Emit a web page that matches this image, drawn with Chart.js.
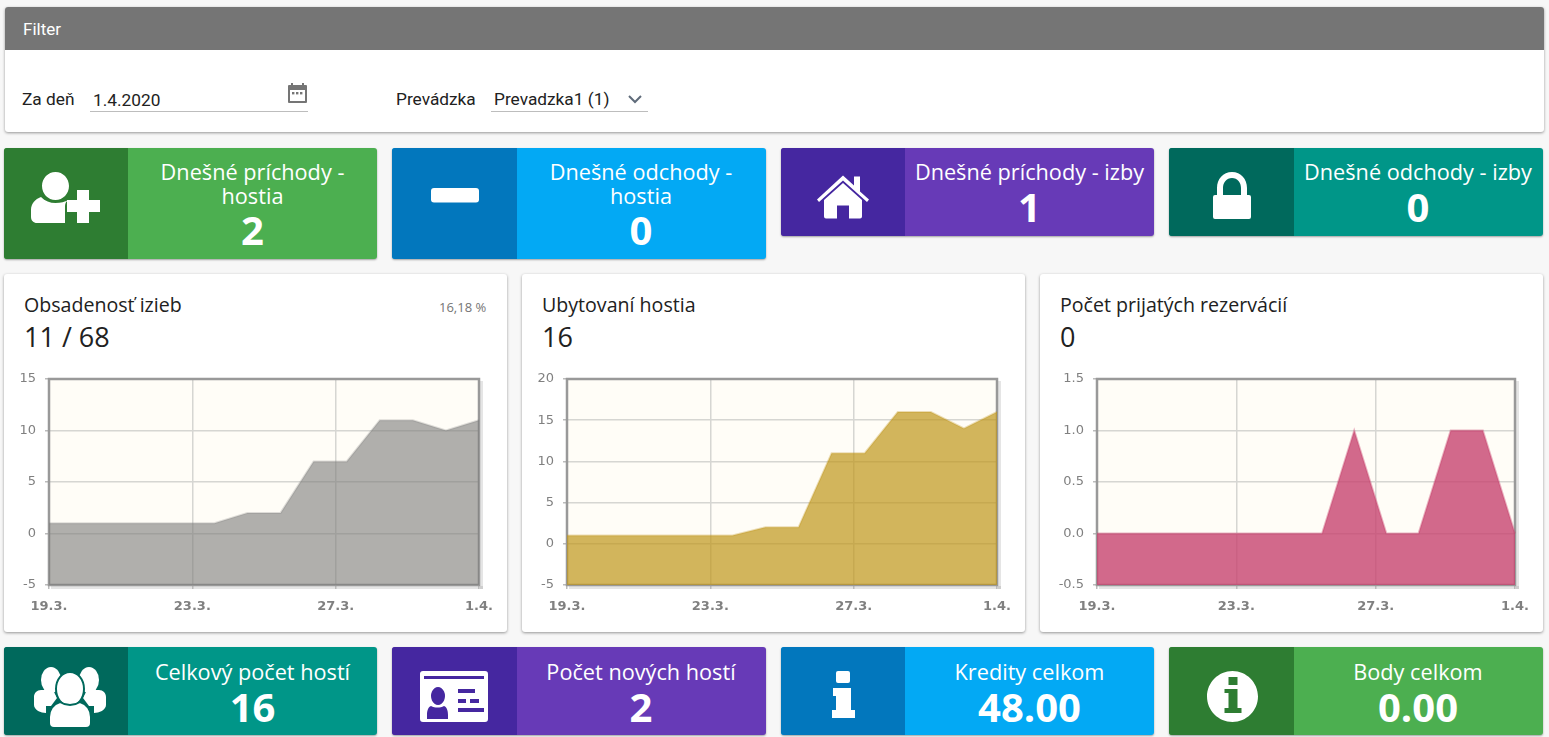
<!DOCTYPE html>
<html lang="sk">
<head>
<meta charset="utf-8">
<title>Prehľad</title>
<script src="https://cdn.jsdelivr.net/npm/chart.js@4"></script>
<style>
html, body { margin: 0; padding: 0; width: 1549px; height: 737px; overflow: hidden; background: #f7f7f7; color: #212121; font-family: Roboto, sans-serif; }
.abs { position: absolute; white-space: nowrap; }
.card { position: absolute; background: #fff; border-radius: 3px; box-shadow: 0 1px 3px rgba(0,0,0,.4); }
.filter-head { position: absolute; left: 5px; top: 7px; width: 1539px; height: 43px; background: #757575; border-radius: 3px 3px 0 0; }
.line { position: absolute; height: 1px; background: #bdbdbd; }
.tile { position: absolute; border-radius: 3px; overflow: hidden; box-shadow: 0 1px 2px rgba(0,0,0,.35); color: #fff; font-family: "Open Sans", sans-serif; text-align: center; }
.tile .dark { position: absolute; left: 0; top: 0; bottom: 0; width: 124px; }
.tile.wide .dark { width: 125px; }
.tile svg { position: absolute; left: 0; top: 0; width: 124px; height: 100%; }
.tile .text { position: absolute; left: 124px; right: 0; top: 12px; font-size: 21.7px; line-height: 23.500px; }
.tile .num { font-size: 40px; line-height: 46px; font-weight: 700; }
.green { background: #4caf50; } .green .dark { background: #2e7d32; }
.blue { background: #03a9f4; } .blue .dark { background: #0277bd; }
.purple { background: #673ab7; } .purple .dark { background: #4527a0; }
.teal { background: #009688; } .teal .dark { background: #00695c; }
.title { font-family: "Open Sans", sans-serif; font-size: 19.6px; color: #212121; }
.big { font-family: "Open Sans", sans-serif; font-size: 27px; color: #212121; }
.field { font-size: 17.3px; }
canvas { position: absolute; }
</style>
</head>
<body>
<div class="card" style="left:5px;top:7px;width:1539px;height:125px"></div>
<div class="filter-head"></div>
<div class="abs" style="left:23px;top:19px;font-size:17px;color:#fff">Filter</div>
<div class="abs field" style="left:22px;top:89px">Za deň</div>
<div class="abs field" style="left:93px;top:90px">1.4.2020</div>
<div class="line" style="left:90px;top:111px;width:218px"></div>
<svg class="abs" style="left:287px;top:82px" width="21" height="22" viewBox="0 0 21 22">
  <path fill="#757575" d="M4 1h2v2h9V1h2v2h2a1 1 0 0 1 1 1v16a1 1 0 0 1-1 1H2a1 1 0 0 1-1-1V4a1 1 0 0 1 1-1h2zM3 8v11h15V8z"/>
  <rect fill="#757575" x="5" y="10" width="2.4" height="2.4"/><rect fill="#757575" x="9" y="10" width="2.4" height="2.4"/><rect fill="#757575" x="13" y="10" width="2.4" height="2.4"/>
</svg>
<div class="abs field" style="left:396px;top:89px">Prevádzka</div>
<div class="abs field" style="left:494px;top:89px">Prevadzka1 (1)</div>
<div class="line" style="left:491px;top:111px;width:157px"></div>
<svg class="abs" style="left:627px;top:94px" width="16" height="10" viewBox="0 0 16 10"><path fill="none" stroke="#5f6b7a" stroke-width="2" d="M2 2l6 6 6-6"/></svg>

<div class="tile green" style="left:4px;top:148px;width:373px;height:111px">
  <div class="dark"></div>
  <svg viewBox="4 148 124 111" preserveAspectRatio="none"><path fill="#fff" d="M55.500 172c7.500 0 13.500 6.300 13.500 14s-6 14-13.500 14-13.500-6.300-13.500-14 6-14 13.500-14zM41 197c4 4 9 6 14.500 6s9-1 13-3c-2 1-3.500 3-3.500 6v17H37c-3.500 0-6-2.500-6-6v-7c0-6 4-11 10-13z"/><path fill="#fff" d="M77 190h12v10h11v12H89v11H77v-11H67v-12h10z"/></svg>
  <div class="text">Dnešné príchody -<br>hostia<div class="num">2</div></div>
</div>
<div class="tile blue wide" style="left:392px;top:148px;width:374px;height:111px">
  <div class="dark"></div>
  <svg viewBox="392 148 124 111" preserveAspectRatio="none"><rect fill="#fff" x="431" y="188" width="48" height="14.500" rx="3"/></svg>
  <div class="text">Dnešné odchody -<br>hostia<div class="num">0</div></div>
</div>
<div class="tile purple" style="left:781px;top:148px;width:373px;height:88px">
  <div class="dark"></div>
  <svg viewBox="781 148 124 88" preserveAspectRatio="none"><path fill="#fff" d="M843 175.500l11 10v-9h6v15l9 8-2 2.500-24-21.500-24 21.500-2-2.500z"/><path fill="#fff" d="M843 183l19 17v16.500a2 2 0 0 1-2 2h-11v-13h-12v13h-11a2 2 0 0 1-2-2V200z"/></svg>
  <div class="text">Dnešné príchody - izby<div class="num">1</div></div>
</div>
<div class="tile teal wide" style="left:1169px;top:148px;width:374px;height:88px">
  <div class="dark"></div>
  <svg viewBox="1169 148 124 88" preserveAspectRatio="none"><path fill="#fff" fill-rule="evenodd" d="M1232 172c9 0 15 7 15 16v7h2a2 2 0 0 1 2 2v20a2 2 0 0 1-2 2h-34a2 2 0 0 1-2-2v-20a2 2 0 0 1 2-2h2v-7c0-9 6-16 15-16zm0 6c-5.500 0-9 4.500-9 10v7h18v-7c0-5.500-3.500-10-9-10z"/></svg>
  <div class="text">Dnešné odchody - izby<div class="num">0</div></div>
</div>

<div class="card" style="left:4px;top:274px;width:503px;height:358px"></div>
<div class="abs title" style="left:24px;top:291px">Obsadenosť izieb</div>
<div class="abs big" style="left:24px;top:318px">11 / 68</div>
<div class="abs" style="left:439px;top:298px;font:13px 'Open Sans',sans-serif;color:#757575">16,18 %</div>
<div class="card" style="left:522px;top:274px;width:503px;height:358px"></div>
<div class="abs title" style="left:542px;top:291px">Ubytovaní hostia</div>
<div class="abs big" style="left:542px;top:318px">16</div>
<div class="card" style="left:1040px;top:274px;width:503px;height:358px"></div>
<div class="abs title" style="left:1060px;top:291px">Počet prijatých rezervácií</div>
<div class="abs big" style="left:1060px;top:318px">0</div>

<canvas id="roomsChart" style="left:4px;top:370px;width:503px;height:255px"></canvas>
<canvas id="guestsChart" style="left:522px;top:370px;width:503px;height:255px"></canvas>
<canvas id="bookingsChart" style="left:1040px;top:370px;width:503px;height:255px"></canvas>

<div class="tile teal" style="left:4px;top:647px;width:373px;height:88px">
  <div class="dark"></div>
  <svg viewBox="4 647 124 88" preserveAspectRatio="none"><ellipse fill="#fff" cx="51" cy="680" rx="10" ry="13"/><ellipse fill="#fff" cx="89" cy="680" rx="10" ry="13"/><path fill="#fff" d="M41 690h12l4 8-6 8h-5v7c-5 0-12-3-12-8v-8c0-4 3-7 7-7zM87 690h12c4 0 7 3 7 7v8c0 5-7 8-12 8v-7h-5l-6-8z"/><ellipse fill="#fff" stroke="#00695c" stroke-width="2" cx="70" cy="689" rx="14" ry="17"/><path fill="#fff" stroke="#00695c" stroke-width="2" d="M60 702c6 4 14 4 20 0 7 2 11 8 11 15v6c0 3-2 5-5 5H54c-3 0-5-2-5-5v-6c0-7 4-13 11-15z"/></svg>
  <div class="text" style="top:13px">Celkový počet hostí<div class="num">16</div></div>
</div>
<div class="tile purple wide" style="left:392px;top:647px;width:374px;height:88px">
  <div class="dark"></div>
  <svg viewBox="392 647 124 88" preserveAspectRatio="none"><path fill="#fff" fill-rule="evenodd" d="M423 671h62a3 3 0 0 1 3 3v45a3 3 0 0 1-3 3h-62a3 3 0 0 1-3-3v-45a3 3 0 0 1 3-3zm1 5v3h60v-3zm34 13v4h17v-4zm0 10v4h8v-4zm12 0v4h9v-4zm-12 9v4h26v-4zm-20-21a7 9 0 1 0 .01 0zm-7 19c-3 1-4 5-4 9v4h21v-4c0-4-1-8-4-9-4 2-9 2-13 0z"/></svg>
  <div class="text" style="top:13px">Počet nových hostí<div class="num">2</div></div>
</div>
<div class="tile blue" style="left:781px;top:647px;width:373px;height:88px">
  <div class="dark"></div>
  <svg viewBox="781 647 124 88" preserveAspectRatio="none"><rect fill="#fff" x="836" y="671" width="14" height="12" rx="2"/><path fill="#fff" d="M833 688h18v22h4v8h-23v-8h4v-14h-3z"/></svg>
  <div class="text" style="top:13px">Kredity celkom<div class="num">48.00</div></div>
</div>
<div class="tile green wide" style="left:1169px;top:647px;width:374px;height:88px">
  <div class="dark"></div>
  <svg viewBox="1169 647 124 88" preserveAspectRatio="none"><path fill="#fff" fill-rule="evenodd" d="M1232.500 671c14 0 25.500 11.500 25.500 25.500s-11.500 25.500-25.500 25.500-25.500-11.500-25.500-25.500 11.500-25.500 25.500-25.500zm-4 6v8h9v-8zm-4 12v4h4v15h-4v5h17v-5h-4v-19z"/></svg>
  <div class="text" style="top:13px">Body celkom<div class="num">0.00</div></div>
</div>

<script>
const tickLabels = ['19.3.', '23.3.', '27.3.', '1.4.'];
const roomsValues = [1, 1, 1, 1, 1, 1, 2, 2, 7, 7, 11, 11, 10, 11];
const guestsValues = [1, 1, 1, 1, 1, 1, 2, 2, 11, 11, 16, 16, 14, 16];
const bookingsValues = [0, 0, 0, 0, 0, 0, 0, 0, 1, 0, 0, 1, 1, 0];

// plot background, then the heavy grey frame under the fill so the colour tints its bottom edge
const plotFrame = {
    id: 'plotFrame',
    beforeDraw(chart) {
        const a = chart.chartArea;
        const ctx = chart.ctx;
        ctx.save();
        ctx.fillStyle = 'rgba(0,0,0,0.1)';
        ctx.fillRect(a.left + 2, a.bottom + 1, a.width + 2, 3);
        ctx.fillRect(a.right + 1, a.top + 2, 3, a.height + 2);
        ctx.fillStyle = '#fffdf7';
        ctx.fillRect(a.left, a.top, a.width, a.height);
        ctx.restore();
    },
    beforeDatasetsDraw(chart) {
        const a = chart.chartArea;
        const ctx = chart.ctx;
        ctx.save();
        ctx.strokeStyle = '#999';
        ctx.lineWidth = 2.5;
        ctx.strokeRect(a.left, a.top, a.width, a.height);
        ctx.restore();
    }
};

function drawArea(id, values, yMin, yMax, step, fill, line, leftWidth, decimals) {
    const ctx = document.getElementById(id).getContext('2d');
    const last = values.length - 1;
    return new Chart(ctx, {
        type: 'line',
        data: {
            datasets: [{
                data: values.map((v, i) => ({ x: i, y: v })),
                label: id,
                fill: 'start',
                backgroundColor: fill,
                borderColor: line,
                borderWidth: 2,
                tension: 0,
                pointRadius: 0,
                clip: 1
            }]
        },
        plugins: [plotFrame],
        options: {
            responsive: false,
            animation: false,
            layout: { padding: { top: 9, right: 28, left: 0, bottom: 0 } },
            plugins: { legend: { display: false }, tooltip: { enabled: false } },
            scales: {
                x: {
                    type: 'linear',
                    min: 0,
                    max: last,
                    // the four date labels sit evenly across the axis, not on data points
                    afterBuildTicks(scale) {
                        scale.ticks = tickLabels.map((_, i) => ({ value: i * last / (tickLabels.length - 1) }));
                    },
                    afterFit(scale) {
                        scale.height = 40;
                        scale.paddingLeft = 0;
                        scale.paddingRight = 0;
                    },
                    grid: { color: '#d6d6d2', lineWidth: 1.5, tickLength: 4, tickColor: '#bbb' },
                    border: { display: false },
                    ticks: {
                        color: '#808080',
                        maxRotation: 0,
                        autoSkip: false,
                        padding: 10,
                        font: { family: '"DejaVu Sans"', size: 13, weight: 'bold' },
                        callback: (value, index) => tickLabels[index]
                    }
                },
                y: {
                    min: yMin,
                    max: yMax,
                    afterFit(scale) {
                        scale.width = leftWidth;
                        scale.paddingTop = 0;
                        scale.paddingBottom = 0;
                    },
                    grid: { color: '#d6d6d2', lineWidth: 1.5, tickLength: 4, tickColor: '#bbb' },
                    border: { display: false },
                    ticks: {
                        stepSize: step,
                        color: '#808080',
                        padding: 9,
                        font: { family: '"DejaVu Sans"', size: 13 },
                        callback: (value) => value.toFixed(decimals)
                    }
                }
            }
        }
    });
}

window.onload = () => {
    for (const el of document.querySelectorAll('canvas')) {
        el.width = 503;
        el.height = 255;
    }
    drawArea('roomsChart', roomsValues, -5, 15, 5, 'rgba(123,123,122,0.6)', 'rgba(123,123,122,0.25)', 45, 0);
    drawArea('guestsChart', guestsValues, -5, 20, 5, 'rgba(191,149,26,0.7)', 'rgba(191,149,26,0.3)', 45, 0);
    drawArea('bookingsChart', bookingsValues, -0.5, 1.5, 0.5, 'rgba(199,67,111,0.8)', 'rgba(199,67,111,0.4)', 57, 1);
};
</script>
</body>
</html>
